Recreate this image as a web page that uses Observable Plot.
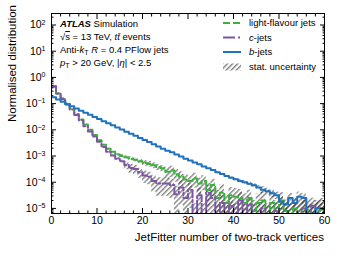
<!DOCTYPE html>
<html><head><meta charset="utf-8">
<script src="https://cdn.jsdelivr.net/npm/d3@7"></script>
<script src="https://cdn.jsdelivr.net/npm/@observablehq/plot@0.6"></script>
<style>body{margin:0;background:#fff;}</style>
</head><body><div id="chart"></div>
<script>
// bin lower edges 0..59 (bin width 1)
const binEdges = d3.range(0, 60);
const seriesNames = ["light-flavour jets", "c-jets", "b-jets"];

const lightJets = [0.47,0.25,0.16,0.10,0.063,0.040,0.025,0.016,0.010,0.0063,
  0.0040,0.0027,0.0019,0.00145,0.00115,0.0010,0.00089,0.00079,0.00072,0.00063,
  0.00054,0.00050,0.00044,0.00038,0.00034,0.00025,0.00028,0.00020,0.00016,0.000126,
  0.000112,0.00014,0.000089,0.000112,0.00005,0.000079,0.000025,0.00004,0.000016,0.000032,
  0.000028,0.000025,0.000016,0.000025,0.000008,0.000016,0.00002,0,0.000016,0.000008,
  0.00002,0.000008,0,0.00001,0,0.00001,0.0000089,0,0.000008,0.00001];
const cJets = [0.44,0.24,0.148,0.093,0.059,0.037,0.023,0.0138,0.0087,0.0055,
  0.0035,0.0022,0.00145,0.00105,0.00079,0.00063,0.00045,0.00035,0.00032,0.00024,
  0.00018,0.00016,0.000112,0.000089,0.000089,0.000089,0.000079,0.000035,0.000063,0.000025,
  0.00005,0,0.000032,0,0.00004,0.000025,0,0.000016,0,0.0000126,
  0,0.00002,0,0.000014,0,0,0.00001,0,0,0.000008,
  0,0,0,0,0,0.00001,0,0.0000126,0,0];
const bJets = [0.174,0.145,0.117,0.0955,0.0794,0.0646,0.0537,0.0447,0.0372,0.0309,
  0.0257,0.0214,0.0178,0.0148,0.0123,0.0102,0.0085,0.0071,0.0059,0.0049,
  0.0041,0.0034,0.0028,0.0023,0.0019,0.0016,0.00138,0.00115,0.00095,0.00079,
  0.00068,0.00056,0.00048,0.00040,0.00034,0.00029,0.00024,0.000204,0.000174,0.000148,
  0.000129,0.000112,0.0001,0.000087,0.000076,0.000063,0.000052,0.000045,0.000038,0.000032,
  0.000018,0.000014,0.000025,0.000016,0.000028,0.000025,0,0,0.00001,0.00001];

// statistical uncertainties (absolute)
const lightUnc = [0,0,0,0,0,0,0,0,0,0,
  0.0001,0.00009,0.00008,0.00008,0.00008,0.00015,0.00013,0.00012,0.00011,0.0001,
  0.00013,0.000125,0.00011,0.0001,0.00009,0.00012,0.00013,0.0001,0.00009,0.00007,
  0.000065,0.00008,0.000055,0.000065,0.00004,0.00005,0.000025,0.00004,0.000016,0.00003,
  0.00003,0.000028,0.00002,0.000025,0.000012,0.00002,0.000022,0.000015,0.000016,0.000012,
  0.00002,0.000012,0.000015,0.000014,0.000015,0.000014,0.000013,0.000015,0.000012,0.000014];
const cUnc = [0,0,0,0,0,0,0,0,0,0,
  0.0001,0.0001,0.00015,0.00011,0.00008,0.00007,0.00015,0.00013,0.00012,0.0001,
  0.00009,0.00008,0.00007,0.00006,0.00006,0.00006,0.000055,0.000035,0.00005,0.000025,
  0.00004,0.000015,0.000028,0.000015,0.000035,0.000025,0.000015,0.000016,0.000015,0.000013,
  0.000015,0.00002,0.000015,0.000014,0.000015,0.000015,0.00001,0.000015,0.000015,0.000008,
  0.000015,0.000015,0.000015,0.000015,0.000015,0.00001,0.000015,0.000012,0.000015,0.000015];
const bUnc = [0,0,0,0,0,0,0,0,0,0,
  0,0,0,0,0,0,0,0,0,0,
  0,0,0,0,0,0,0,0,0,0,
  0,0,0,0,0,0,0.000012,0.00001,0.00001,0.00001,
  0.00001,0.000017,0.000015,0.000013,0.000011,0.00001,0.000016,0.000014,0.000012,0.00001,
  0.000009,0.000007,0.000012,0.000008,0.000014,0.000012,0.000012,0.000012,0.00001,0.00001];

const colors = {"light-flavour jets": "#3cb03c", "c-jets": "#7d55a5", "b-jets": "#1f72bd"};
const dashes = {"light-flavour jets": "6,3", "c-jets": "9,2.5,2,2.5", "b-jets": null};

const FLOOR = 1e-7;
const valuesBySeries = {"light-flavour jets": lightJets, "c-jets": cJets, "b-jets": bJets};
const uncBySeries = {"light-flavour jets": lightUnc, "c-jets": cUnc, "b-jets": bUnc};

const rows = [];
const stepRows = [];
for (const s of seriesNames) {
  const vals = valuesBySeries[s], unc = uncBySeries[s];
  binEdges.forEach((x, i) => {
    rows.push({series: s, x, v: vals[i], unc: unc[i]});
    stepRows.push({series: s, x, v: vals[i]});
  });
  stepRows.push({series: s, x: 60, v: vals[vals.length - 1]});
}

const font = "'Liberation Sans', Arial, Helvetica, sans-serif";
const xMajor = [0,10,20,30,40,50,60];
const xMinor = d3.range(0, 61, 2).filter(d => d % 10 !== 0);
const yMajor = d3.range(-5, 3).map(n => Math.pow(10, n));
const yMinor = [];
for (let n = -6; n <= 2; n++) for (let k = 2; k <= 9; k++) {
  const v = k * Math.pow(10, n);
  if (v > 6.4e-6 && v < 275) yMinor.push(v);
}

const lineMarks = seriesNames.map(s =>
  Plot.line(stepRows.filter(d => d.series === s), {
    x: "x", y: d => Math.max(d.v, FLOOR), curve: "step-after",
    stroke: colors[s], strokeWidth: 2, strokeDasharray: dashes[s] ?? undefined, clip: true
  })
);

const chart = Plot.plot({
  width: 341, height: 256,
  marginLeft: 51, marginRight: 17, marginTop: 13, marginBottom: 43,
  style: {fontFamily: font, fontSize: "10px", color: "#000", background: "#fff"},
  x: {domain: [0, 60], axis: null},
  y: {type: "log", domain: [6.4e-6, 275], axis: null},
  marks: [
    Plot.rect(rows.filter(d => d.unc > 0), {
      x1: "x", x2: d => d.x + 1,
      y1: d => Math.max(d.v - d.unc, FLOOR), y2: d => d.v + d.unc,
      fill: "url(#hatch)", clip: true
    }),
    ...lineMarks,
    Plot.frame({stroke: "#000", strokeWidth: 1}),
    Plot.axisX({ticks: xMajor, tickSize: -5, tickPadding: 8, label: null, fontSize: 10.5}),
    Plot.axisX({ticks: xMinor, tickSize: -2.5, tickFormat: () => "", label: null}),
    Plot.axisX({anchor: "top", ticks: xMajor, tickSize: -5, tickFormat: () => "", label: null}),
    Plot.axisX({anchor: "top", ticks: xMinor, tickSize: -2.5, tickFormat: () => "", label: null}),
    Plot.axisY({ticks: yMajor, tickSize: -5, tickPadding: 11, label: null, fontSize: 10.5,
      tickFormat: d => "10^" + Math.round(Math.log10(d))}),
    Plot.axisY({ticks: yMinor, tickSize: -2.5, tickFormat: () => "", label: null}),
    Plot.axisY({anchor: "right", ticks: yMajor, tickSize: -5, tickFormat: () => "", label: null}),
    Plot.axisY({anchor: "right", ticks: yMinor, tickSize: -2.5, tickFormat: () => "", label: null})
  ]
});

const svg = d3.select(chart);
const defs = svg.insert("defs", ":first-child");
const pat = defs.append("pattern").attr("id", "hatch").attr("patternUnits", "userSpaceOnUse")
  .attr("width", 3.6).attr("height", 3.6).attr("patternTransform", "rotate(45)");
pat.append("line").attr("x1", 0.8).attr("y1", 0).attr("x2", 0.8).attr("y2", 3.6)
  .attr("stroke", "#3a3a3a").attr("stroke-width", 0.9);

// superscript exponents on y tick labels
svg.selectAll('g[aria-label="y-axis tick label"] text').each(function() {
  const t = d3.select(this);
  const txt = t.text();
  if (!txt.startsWith("10^")) return;
  const exp = txt.slice(3).replace("-", "\u2212");
  t.text("10");
  t.append("tspan").attr("dy", "-0.5em").attr("font-size", "7px").text(exp);
});

// axis titles
svg.append("text").attr("x", 324).attr("y", 241).attr("text-anchor", "end")
  .attr("font-family", font).attr("font-size", "11.5px").text("JetFitter number of two-track vertices");
svg.append("text").attr("transform", "translate(16,5) rotate(-90)").attr("text-anchor", "end")
  .attr("font-family", font).attr("font-size", "11.5px").text("Normalised distribution");

// ATLAS label block
const fs = "9.5px";
const info = svg.append("g").attr("font-family", font).attr("font-size", fs).attr("text-anchor", "start");
let t = info.append("text").attr("x", 60).attr("y", 27);
t.append("tspan").attr("font-weight", "bold").attr("font-style", "italic").text("ATLAS");
t.append("tspan").text(" Simulation");
t = info.append("text").attr("x", 60).attr("y", 40);
t.append("tspan").text("\u221A");
t.append("tspan").attr("style", "text-decoration: overline").text("s");
t.append("tspan").text(" = 13 TeV, ");
t.append("tspan").attr("font-style", "italic").text("tt\u0304");
t.append("tspan").text(" events");
t = info.append("text").attr("x", 60).attr("y", 53);
t.append("tspan").text("Anti-");
t.append("tspan").attr("font-style", "italic").text("k");
t.append("tspan").attr("font-size", "7px").attr("dy", "2").text("T");
t.append("tspan").attr("dy", "-2").text(" ");
t.append("tspan").attr("font-style", "italic").text("R");
t.append("tspan").text(" = 0.4 PFlow jets");
t = info.append("text").attr("x", 60).attr("y", 66);
t.append("tspan").attr("font-style", "italic").text("p");
t.append("tspan").attr("font-size", "7px").attr("dy", "2").text("T");
t.append("tspan").attr("dy", "-2").text(" > 20 GeV, |");
t.append("tspan").attr("font-style", "italic").text("\u03B7");
t.append("tspan").text("| < 2.5");

// legend
const leg = svg.append("g").attr("font-family", font).attr("font-size", fs).attr("text-anchor", "start");
const legRows = [
  {label: "light-flavour jets", y: 23},
  {label: "c-jets", y: 37.5},
  {label: "b-jets", y: 52},
];
legRows.forEach(r => {
  leg.append("line").attr("x1", 223).attr("x2", 241).attr("y1", r.y).attr("y2", r.y)
    .attr("stroke", colors[r.label]).attr("stroke-width", 2)
    .attr("stroke-dasharray", r.label === "light-flavour jets" ? "7,3" : r.label === "c-jets" ? "12,3,2,3" : null);
  const tx = leg.append("text").attr("x", 249).attr("y", r.y + 3.3);
  if (r.label === "c-jets" || r.label === "b-jets") {
    tx.append("tspan").attr("font-style", "italic").text(r.label[0]);
    tx.append("tspan").text(r.label.slice(1));
  } else tx.text(r.label);
});
leg.append("rect").attr("x", 223).attr("y", 63.5).attr("width", 18).attr("height", 7).attr("fill", "url(#hatch)");
leg.append("text").attr("x", 249).attr("y", 70).text("stat. uncertainty");

document.getElementById("chart").appendChild(chart);
</script>
</body></html>
